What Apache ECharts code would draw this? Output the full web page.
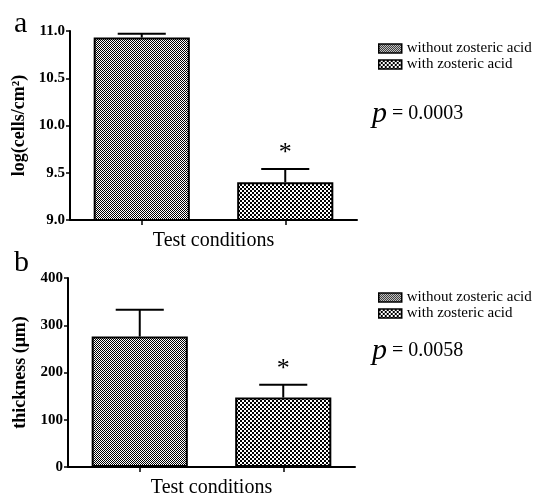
<!DOCTYPE html>
<html><head><meta charset="utf-8">
<script src="https://cdn.jsdelivr.net/npm/echarts@6/dist/echarts.min.js"></script>
<style>html,body{margin:0;padding:0;background:#fff}#c{width:542px;height:499px}</style>
</head><body><div id="c"></div>
<script>
const categories = ['without zosteric acid', 'with zosteric acid'];
const meanA = [10.93, 9.40];
const errA = [0.04, 0.14];
const meanB = [276, 147];
const errB = [57, 27];
const stars = ['', '*'];
const pA = '0.0003';
const pB = '0.0058';
const ticksA = [9.0, 9.5, 10.0, 10.5, 11.0];
const ticksB = [0, 100, 200, 300, 400];

function makePattern(cell, period) {
  const c = document.createElement('canvas');
  c.width = period; c.height = period;
  const g = c.getContext('2d');
  g.fillStyle = '#fff'; g.fillRect(0, 0, period, period);
  g.fillStyle = '#000';
  for (let y = 0; y < period; y += cell) for (let x = 0; x < period; x += cell) {
    if (((x / cell) + (y / cell)) % 2 === 0) g.fillRect(x, y, cell, cell);
  }
  return { image: c, repeat: 'repeat' };
}
const fine = makePattern(1, 2);
const coarse = makePattern(2, 4);
const fills = [fine, coarse];
const serif = '"Liberation Serif", "DejaVu Serif", serif';

function barSeries(gi, means) {
  return categories.map((name, i) => ({
    type: 'bar', name, xAxisIndex: gi, yAxisIndex: gi,
    data: means.map((v, j) => j === i ? v : '-'),
    barWidth: '67%', barGap: '-100%',
    itemStyle: { color: fills[i], borderColor: '#000', borderWidth: 2 },
    emphasis: { disabled: true }, clip: true
  }));
}
function errSeries(gi, means, errs) {
  return {
    type: 'custom', xAxisIndex: gi, yAxisIndex: gi, z: 1,
    data: means.map((m, i) => [i, m, errs[i]]),
    renderItem: function (params, api) {
      const x = api.value(0), m = api.value(1), e = api.value(2);
      const p0 = api.coord([x, m]);
      const p1 = api.coord([x, m + e]);
      const half = api.size([1, 0])[0] * 0.67 / 4;
      const star = stars[params.dataIndex];
      const st = { stroke: '#000', lineWidth: 2 };
      const children = [
        { type: 'line', shape: { x1: p0[0], y1: p0[1], x2: p1[0], y2: p1[1] }, style: st },
        { type: 'line', shape: { x1: p1[0] - half, y1: p1[1], x2: p1[0] + half, y2: p1[1] }, style: st }
      ];
      if (star) children.push({ type: 'text', x: p1[0], y: p1[1] - 16, style: { text: star, fontSize: 26, fontFamily: serif, fill: '#000', align: 'center', verticalAlign: 'middle' } });
      return { type: 'group', children };
    }
  };
}
const axisLine = { show: true, lineStyle: { color: '#000', width: 2 } };
function xAxis(gi) {
  return {
    type: 'category', gridIndex: gi, data: categories,
    axisLine, axisTick: { show: true, alignWithLabel: true, length: 5, lineStyle: { color: '#000', width: 1.5 } },
    axisLabel: { show: false }, splitLine: { show: false },
    name: 'Test conditions', nameLocation: 'middle', nameGap: 11,
    nameTextStyle: { fontFamily: serif, fontSize: 20, color: '#000', verticalAlign: 'top' }
  };
}
function yAxis(gi, ticks, name, dec, gap) {
  return {
    type: 'value', gridIndex: gi, min: ticks[0], max: ticks[ticks.length - 1], interval: ticks[1] - ticks[0],
    axisLine, axisTick: { show: true, length: 4, lineStyle: { color: '#000', width: 1.5 } },
    splitLine: { show: false },
    axisLabel: { color: '#000', fontFamily: serif, fontWeight: 'bold', fontSize: 15, margin: 5, formatter: v => v.toFixed(dec) },
    name, nameLocation: 'middle', nameGap: gap,
    nameTextStyle: { fontFamily: serif, fontWeight: 'bold', fontSize: 18, color: '#000' }
  };
}
function legend(top) {
  return {
    data: categories, left: 373, top, orient: 'vertical', icon: 'rect',
    itemWidth: 23, itemHeight: 9, itemGap: 1, selectedMode: false,
    textStyle: { fontFamily: serif, fontSize: 15, color: '#000' },
    itemStyle: { borderColor: '#000', borderWidth: 1.5 }
  };
}
const pRich = { p: { fontFamily: serif, fontStyle: 'italic', fontSize: 30 }, v: { fontFamily: serif, fontSize: 20 } };
const chart = echarts.init(document.getElementById('c'), null, { renderer: 'canvas' });
chart.setOption({
  animation: false,
  title: [
    { text: 'a', left: 9, top: 4, textStyle: { fontFamily: serif, fontSize: 30, fontWeight: 'normal', color: '#000' } },
    { text: 'b', left: 9, top: 243, textStyle: { fontFamily: serif, fontSize: 30, fontWeight: 'normal', color: '#000' } }
  ],
  grid: [
    { left: 70, top: 31, right: 185, bottom: 279 },
    { left: 68, top: 278, right: 187, bottom: 29 }
  ],
  xAxis: [xAxis(0), xAxis(1)],
  yAxis: [yAxis(0, ticksA, 'log(cells/cm²)', 1, 39), yAxis(1, ticksB, 'thickness (μm)', 0, 37)],
  legend: [legend(36), legend(285)],
  graphic: [
    { type: 'text', left: 372, top: 99, style: { rich: pRich, text: '{p|p}{v| = ' + pA + '}', fill: '#000' } },
    { type: 'text', left: 372, top: 336, style: { rich: pRich, text: '{p|p}{v| = ' + pB + '}', fill: '#000' } }
  ],
  series: [
    ...barSeries(0, meanA), errSeries(0, meanA, errA),
    ...barSeries(1, meanB), errSeries(1, meanB, errB)
  ]
});
</script></body></html>
